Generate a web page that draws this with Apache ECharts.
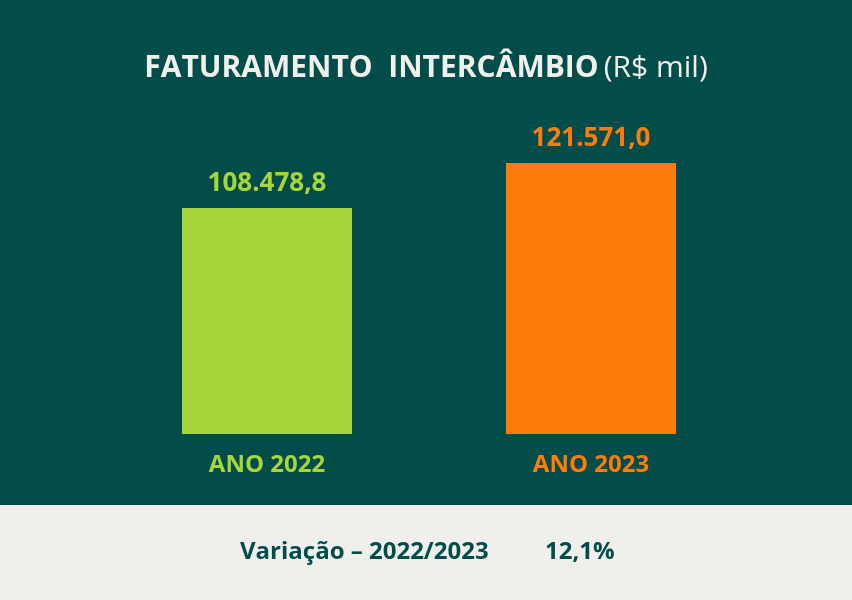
<!DOCTYPE html>
<html>
<head>
<meta charset="utf-8">
<script src="https://cdn.jsdelivr.net/npm/echarts@6/dist/echarts.min.js"></script>
<style>
html,body{margin:0;padding:0;background:#024d4a;}
#chart{width:852px;height:600px;}
</style>
</head>
<body>
<div id="chart"></div>
<script>
var categories = ['ANO 2022', 'ANO 2023'];
var values = [108478.8, 121571.0];
var barColors = ['#a6d63a', '#ff7b0a'];
var titleMain = 'FATURAMENTO  INTERCÂMBIO';
var titleUnit = '(R$ mil)';
var variationLabel = 'Variação – 2022/2023';

function fmtBR(v, d) {
  var s = v.toFixed(d).split('.');
  var intPart = s[0].replace(/\B(?=(\d{3})+(?!\d))/g, '.');
  return intPart + (s.length > 1 ? ',' + s[1] : '');
}
var variation = fmtBR((values[1] / values[0] - 1) * 100, 1) + '%';

var FONT = 'Open Sans';
var chart = echarts.init(document.getElementById('chart'));
chart.setOption({
  backgroundColor: '#024d4a',
  animation: false,
  title: {
    text: '{b|' + titleMain + '} {r|' + titleUnit + '}',
    left: 'center',
    top: 48,
    textStyle: {
      rich: {
        b: { fontFamily: FONT, fontWeight: 'bold', fontSize: 30, color: '#f0f0ec' },
        r: { fontFamily: FONT, fontWeight: 'normal', fontSize: 30, color: '#f0f0ec' }
      }
    }
  },
  grid: { left: 105, right: 99, top: 163, bottom: 166 },
  xAxis: {
    type: 'category',
    data: categories,
    axisLine: { show: false },
    axisTick: { show: false },
    axisLabel: {
      margin: 19,
      formatter: function (v, i) { return '{c' + i + '|' + v + '}'; },
      rich: {
        c0: { fontFamily: FONT, fontWeight: 'bold', fontSize: 24, color: barColors[0] },
        c1: { fontFamily: FONT, fontWeight: 'bold', fontSize: 24, color: barColors[1] }
      }
    }
  },
  yAxis: {
    type: 'value',
    min: 42725,
    max: 121571,
    show: false,
    splitLine: { show: false }
  },
  series: [{
    type: 'bar',
    barWidth: 170,
    data: values.map(function (v, i) {
      return {
        value: v,
        itemStyle: { color: barColors[i] },
        label: { color: barColors[i] }
      };
    }),
    label: {
      show: true,
      position: 'top',
      distance: 11,
      fontFamily: FONT,
      fontWeight: 'bold',
      fontSize: 26,
      formatter: function (p) { return fmtBR(p.value, 1); }
    }
  }],
  graphic: [
    { type: 'rect', shape: { x: 0, y: 505, width: 852, height: 95 }, style: { fill: '#efefeb' }, z: 0 },
    { type: 'text', x: 240, y: 552, style: { text: variationLabel, fill: '#024d4a', font: 'bold 24px "' + FONT + '"', textVerticalAlign: 'middle' } },
    { type: 'text', x: 545, y: 552, style: { text: variation, fill: '#024d4a', font: 'bold 24px "' + FONT + '"', textVerticalAlign: 'middle' } }
  ]
});
</script>
</body>
</html>
